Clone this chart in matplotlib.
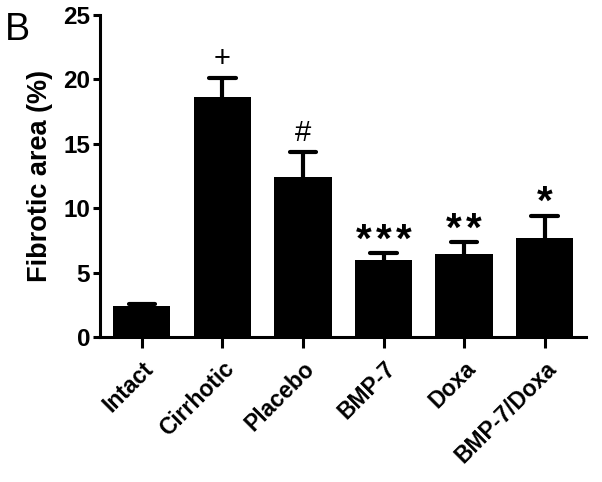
import numpy as np
import matplotlib
matplotlib.use("Agg")
import matplotlib.pyplot as plt

plt.rcParams['font.family'] = ['Liberation Sans', 'DejaVu Sans']

# data
groups = ["Intact", "Cirrhotic", "Placebo", "BMP-7", "Doxa", "BMP-7/Doxa"]
means = [2.4, 18.6, 12.4, 6.0, 6.5, 7.7]
sems = [0.2, 1.5, 2.0, 0.55, 0.9, 1.75]
marks = ["", "+", "#", "***", "**", "*"]

fig = plt.figure(figsize=(6.02, 4.82), dpi=100)
ax = fig.add_axes([0.166, 0.300, 0.807, 0.669])

x = np.arange(len(groups))
tops = np.array(means) + np.array(sems)
ax.bar(x, means, width=0.71, color="black", zorder=2)
# upper error bars only
ax.vlines(x, means, tops, color="black", lw=3, zorder=1)
caps = ax.hlines(tops, x - 0.165, x + 0.165, color="black", lw=3, zorder=1)
caps.set_capstyle("round")

# significance marks above the error bars
for xi, t, lab in zip(x, tops, marks):
    if not lab:
        continue
    if "*" in lab:
        n = len(lab)
        for i in range(n):
            ax.annotate("*", (xi, t), xytext=((i - (n - 1) / 2) * 14.5, 1),
                        textcoords="offset points", ha="center", va="baseline",
                        fontsize=29, fontweight="bold")
    else:
        ax.annotate(lab, (xi, t), xytext=(0, 8), textcoords="offset points",
                    ha="center", va="baseline", fontsize=21)

ax.set_xlim(-0.52, 5.51)
ax.set_ylim(0, 25)
ax.set_yticks([0, 5, 10, 15, 20, 25])
ax.set_xticks(x)
ax.set_xticklabels(groups, rotation=45, ha="right", rotation_mode="anchor",
                   fontsize=16.5, fontweight="bold")
for t in ax.get_yticklabels():
    t.set_fontweight("bold")
    t.set_fontsize(17.5)
ax.set_ylabel("Fibrotic area (%)", fontsize=19.5, fontweight="bold", labelpad=7)

for side in ["top", "right"]:
    ax.spines[side].set_visible(False)
for side in ["left", "bottom"]:
    ax.spines[side].set_linewidth(2.2)
ax.tick_params(axis="y", width=2.2, length=5, pad=2)
ax.tick_params(axis="x", width=2.2, length=8, pad=6)

fig.text(0.008, 0.975, "B", fontsize=27, va="top", ha="left")

fig.savefig("out.png", dpi=100)
